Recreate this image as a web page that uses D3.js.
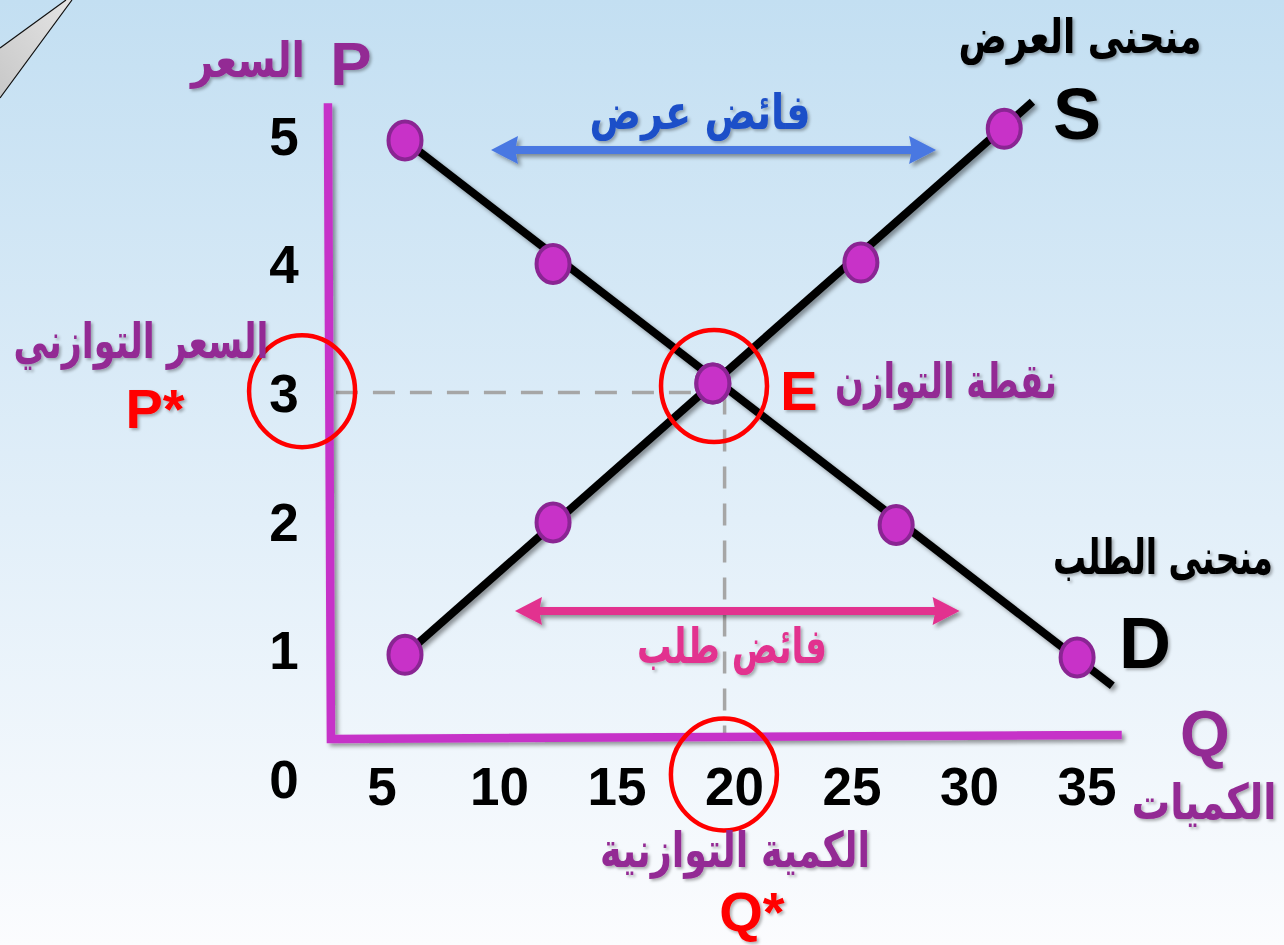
<!DOCTYPE html>
<html>
<head>
<meta charset="utf-8">
<script src="https://cdn.jsdelivr.net/npm/d3@7"></script>
<style>
  html, body { margin: 0; padding: 0; }
  body { width: 1284px; height: 945px; overflow: hidden; }
  svg { display: block; }
</style>
</head>
<body>
<svg id="chart" width="1284" height="945"></svg>
<script>
// ---------------- DATA ----------------
const priceTicks = [0, 1, 2, 3, 4, 5];
const quantityTicks = [5, 10, 15, 20, 25, 30, 35];

// supply curve points (quantity, price)
const supplyQ = [6.0, 12.3, 19.1, 25.4, 31.5];
const supplyP = [0.96, 1.99, 3.07, 4.01, 5.05];
// demand curve points
const demandQ = [6.0, 12.3, 19.1, 26.9, 34.6];
const demandP = [4.96, 4.0, 3.07, 1.97, 0.94];
// where the drawn curves end (beyond the last point)
const supplyEnd = [32.7, 5.26];
const demandEnd = [36.1, 0.72];

// equilibrium
const eqQ = 19.6;
const eqP = 3;

// surplus arrows [fromQ, toQ, atP]
const supplySurplus = [9.66, 28.6, 4.886];
const demandSurplus = [10.68, 29.6, 1.30];

// axis frame extent [originQ, originP, maxQ, maxP]
const frame = [2.72, 0.306, 36.5, 5.25];

// ---------------- SETUP ----------------
const W = 1284, H = 945;
const svg = d3.select("#chart");
const x = d3.scaleLinear().domain([0, 35]).range([264, 1086.5]);
const y = d3.scaleLinear().domain([0, 5]).range([778.3, 135.3]);

const purple = "#932a94";
const magenta = "#c633c8";
const ptFill = "#c832c8";
const ptStroke = "#8a2593";
const pink = "#e2338f";
const blueArrow = "#4a78e2";
const blueText = "#1f50c8";
const red = "#ff0000";
const latinFont = "'Liberation Sans', Arial, sans-serif";
const arabicFont = "'DejaVu Sans', sans-serif";

const defs = svg.append("defs");
const bg = defs.append("linearGradient").attr("id", "bg")
  .attr("x1", 0).attr("y1", 0).attr("x2", 0).attr("y2", 1);
bg.append("stop").attr("offset", "0%").attr("stop-color", "#c3dff2");
bg.append("stop").attr("offset", "55%").attr("stop-color", "#e2eff9");
bg.append("stop").attr("offset", "100%").attr("stop-color", "#fbfcfe");

const sh = defs.append("filter").attr("id", "sh")
  .attr("x", "-20%").attr("y", "-20%").attr("width", "140%").attr("height", "140%");
sh.append("feDropShadow").attr("dx", 3).attr("dy", 3).attr("stdDeviation", 2.2)
  .attr("flood-color", "#000").attr("flood-opacity", 0.4);
const shT = defs.append("filter").attr("id", "shT")
  .attr("x", "-10%").attr("y", "-20%").attr("width", "120%").attr("height", "140%");
shT.append("feDropShadow").attr("dx", 2).attr("dy", 2).attr("stdDeviation", 1.5)
  .attr("flood-color", "#000").attr("flood-opacity", 0.3);

const pg = defs.append("linearGradient").attr("id", "pencil")
  .attr("x1", 0).attr("y1", 1).attr("x2", 1).attr("y2", 0);
pg.append("stop").attr("offset", "0%").attr("stop-color", "#c8c8c8");
pg.append("stop").attr("offset", "100%").attr("stop-color", "#e4e4e4");

svg.append("rect").attr("width", W).attr("height", H).attr("fill", "url(#bg)");

// decorative pencil tip in the corner
svg.append("path")
  .attr("d", "M0,48 L66,0 L72,0 L0,98 Z")
  .attr("fill", "url(#pencil)").attr("stroke", "none");
svg.append("path").attr("d", "M0,48 L66,0 M0,98 L72,0")
  .attr("stroke", "#111").attr("stroke-width", 1.2).attr("fill", "none");

// ---------------- GUIDES ----------------
const guides = svg.append("g")
  .attr("stroke", "#a6a6a6").attr("stroke-width", 3.5)
  .attr("stroke-dasharray", "22 15").attr("fill", "none");
guides.append("line")
  .attr("x1", x(frame[0]) + 8).attr("x2", x(eqQ))
  .attr("y1", y(eqP)).attr("y2", y(eqP));
guides.append("line")
  .attr("x1", x(eqQ)).attr("x2", x(eqQ))
  .attr("y1", y(eqP)).attr("y2", y(frame[1]));

// ---------------- AXES LINES ----------------
svg.append("path")
  .attr("d", `M${x(frame[0])},${y(frame[3])} L${x(frame[0]) + 3},${y(frame[1])} L${x(frame[2])},${y(frame[1]) - 4}`)
  .attr("fill", "none").attr("stroke", magenta).attr("stroke-width", 8.5)
  .attr("stroke-linejoin", "miter").attr("filter", "url(#sh)");

// ---------------- SURPLUS ARROWS ----------------
function doubleArrow(x1, x2, yy) {
  const hl = 27, hh = 14, t = 4;
  return `M${x1},${yy} L${x1 + hl},${yy - hh} L${x1 + hl - 2},${yy - t} L${x2 - hl + 2},${yy - t} L${x2 - hl},${yy - hh} L${x2},${yy} ` +
         `L${x2 - hl},${yy + hh} L${x2 - hl + 2},${yy + t} L${x1 + hl - 2},${yy + t} L${x1 + hl},${yy + hh} Z`;
}
svg.append("path")
  .attr("d", doubleArrow(x(supplySurplus[0]), x(supplySurplus[1]), y(supplySurplus[2])))
  .attr("fill", blueArrow).attr("filter", "url(#sh)");
svg.append("path")
  .attr("d", doubleArrow(x(demandSurplus[0]), x(demandSurplus[1]), y(demandSurplus[2])))
  .attr("fill", pink).attr("filter", "url(#sh)");

// ---------------- CURVES ----------------
const supplyPts = supplyQ.map((q, i) => [q, supplyP[i]]);
const demandPts = demandQ.map((q, i) => [q, demandP[i]]);
const line = d3.line().x(d => x(d[0])).y(d => y(d[1]));

const curves = svg.append("g").attr("filter", "url(#sh)");
curves.append("path").datum([supplyPts[0], supplyEnd])
  .attr("d", line).attr("stroke", "#000").attr("stroke-width", 8).attr("fill", "none");
curves.append("path").datum([demandPts[0], demandEnd])
  .attr("d", line).attr("stroke", "#000").attr("stroke-width", 8).attr("fill", "none");

const pts = svg.append("g");
pts.selectAll("ellipse.s").data(supplyPts).join("ellipse").attr("class", "s")
  .attr("cx", d => x(d[0])).attr("cy", d => y(d[1]))
  .attr("rx", 16.5).attr("ry", 19)
  .attr("fill", ptFill).attr("stroke", ptStroke).attr("stroke-width", 4);
pts.selectAll("ellipse.d").data(demandPts).join("ellipse").attr("class", "d")
  .attr("cx", d => x(d[0])).attr("cy", d => y(d[1]))
  .attr("rx", 16.5).attr("ry", 19)
  .attr("fill", ptFill).attr("stroke", ptStroke).attr("stroke-width", 4);

// ---------------- TICK LABELS (d3 axes) ----------------
const yAxis = svg.append("g").attr("transform", "translate(284,0)")
  .call(d3.axisLeft(y).tickValues(priceTicks).tickSize(0).tickFormat(d3.format("d")));
yAxis.select(".domain").remove();
yAxis.selectAll("text")
  .attr("x", 0).attr("dy", "0.36em").attr("text-anchor", "middle")
  .attr("fill", "#000").style("font-family", latinFont)
  .style("font-size", "53px").style("font-weight", "bold");

const xAxis = svg.append("g").attr("transform", "translate(0,786)")
  .call(d3.axisBottom(x).tickValues(quantityTicks).tickSize(0).tickFormat(d3.format("d")));
xAxis.select(".domain").remove();
xAxis.selectAll("text")
  .attr("y", 0).attr("dy", "0.36em").attr("text-anchor", "middle")
  .attr("fill", "#000").style("font-family", latinFont)
  .style("font-size", "53px").style("font-weight", "bold");

// ---------------- RED CIRCLES ----------------
const redCircles = [[1.62, 3.01], [19.15, 3.05], [19.57, 0.03]];
svg.append("g").selectAll("ellipse").data(redCircles).join("ellipse")
  .attr("cx", d => x(d[0])).attr("cy", d => y(d[1]))
  .attr("rx", 53).attr("ry", 56)
  .attr("fill", "none").attr("stroke", red).attr("stroke-width", 4.5);

// ---------------- TEXT LABELS ----------------
const labels = svg.append("g").attr("filter", "url(#shT)");
function latin(t, cx, by, size, color) {
  labels.append("text").text(t).attr("x", cx).attr("y", by)
    .attr("text-anchor", "middle").attr("fill", color)
    .style("font-family", latinFont).style("font-weight", "bold").style("font-size", size + "px");
}
function arabic(t, cx, by, size, color, w) {
  const el = labels.append("text").text(t).attr("x", 0).attr("y", 0)
    .attr("text-anchor", "middle").attr("fill", color)
    .style("font-family", arabicFont).style("font-weight", "bold").style("font-size", size + "px");
  const natural = el.node().getComputedTextLength() || w;
  el.attr("transform", `translate(${cx},${by}) scale(${w / natural},1)`);
}

latin("P", 351, 85, 62, purple);
arabic("السعر", 248, 77, 49, purple, 114);
arabic("السعر التوازني", 141, 358, 49, purple, 255);
latin("P*", 155, 428, 56, red);
latin("E", 799, 410, 56, red);
arabic("نقطة التوازن", 946, 398, 49, purple, 222);
arabic("منحنى العرض", 1080, 53, 48, "#000", 243);
latin("S", 1077, 139, 72, "#000");
arabic("فائض عرض", 700, 129, 49, blueText, 221);
arabic("فائض طلب", 732, 663, 49, pink, 190);
arabic("منحنى الطلب", 1163, 574, 49, "#000", 220);
latin("D", 1145, 668, 72, "#000");
latin("Q", 1205, 756, 64, purple);
arabic("الكميات", 1204, 819, 49, purple, 145);
arabic("الكمية التوازنية", 735, 867, 49, purple, 270);
latin("Q*", 752, 931, 56, red);
</script>
</body>
</html>
